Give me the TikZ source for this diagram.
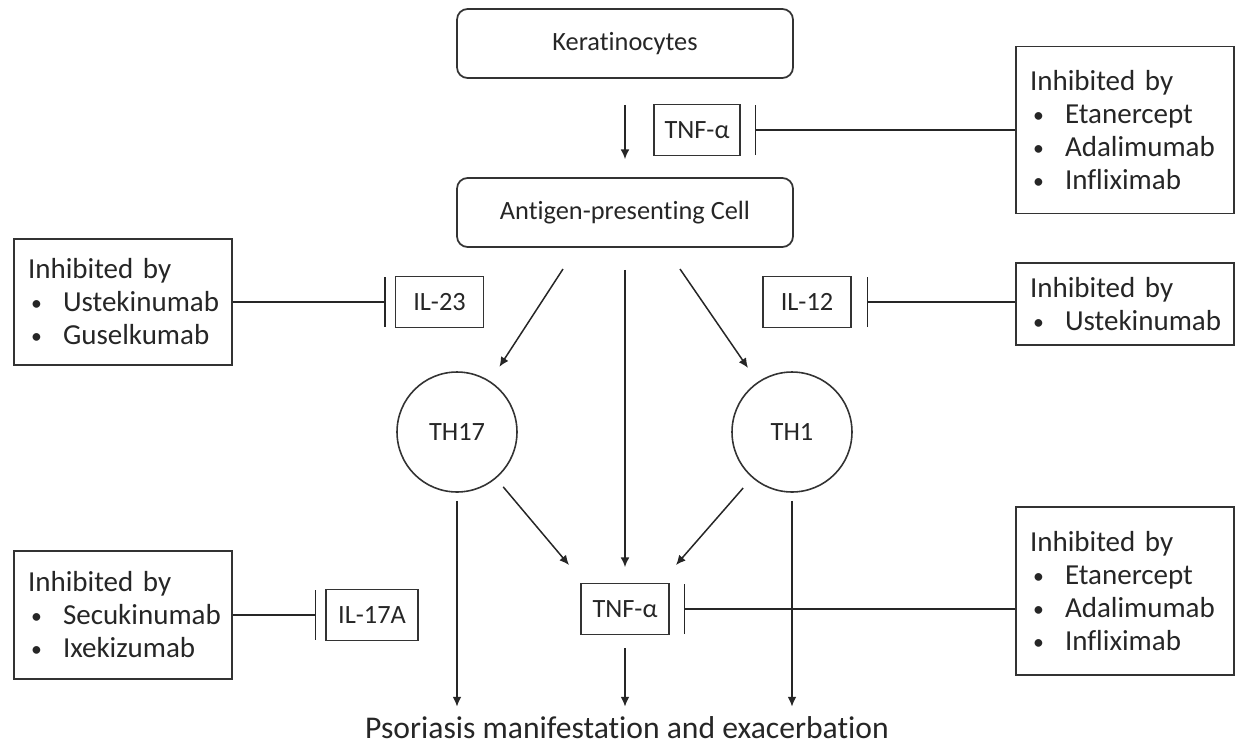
\documentclass[tikz,border=0pt]{standalone}
\usepackage{fontspec}
\setmainfont{Carlito}[Ligatures=NoCommon]
\usetikzlibrary{arrows.meta,positioning,calc}
\newcommand{\drug}[1]{\\\hspace*{0.06cm}\makebox[0.64cm][l]{\raisebox{0.08ex}{\scalebox{0.75}{\textbullet}}}#1}

\begin{document}
\begin{tikzpicture}[
    x=0.02cm, y=-0.02cm,
    cell/.style={rectangle, rounded corners=6pt, draw=black!80, line width=1pt, text=black!85,
                 minimum width=6.72cm, minimum height=1.38cm, font=\fontsize{15}{17}\selectfont},
    cyto/.style={rectangle, draw=black!80, line width=1pt, text=black!85,
                 minimum width=1.76cm, minimum height=1.02cm, font=\fontsize{15}{17}\selectfont},
    tcell/.style={circle, draw=black!80, line width=0.9pt, text=black!85, inner sep=0pt,
                  minimum size=2.4cm, font=\fontsize{15}{17}\selectfont},
    inhbox/.style={rectangle, draw=black!80, line width=1pt, text=black!85, inner sep=0.28cm,
                   text width=3.8cm, align=left, font=\fontsize{16.5}{18.8}\selectfont},
    flow/.style={-{Latex[length=5.5pt,width=5pt]}, line width=0.85pt, draw=black!85},
    block/.style={-{Bar[width=1cm]}, line width=0.85pt, draw=black!85}
]
\useasboundingbox (0,0) rectangle (1235,748);
\node[cell] (kera) at (625,43.5) {Keratinocytes};
\node[cell] (apc) at (625,212.5) {Antigen-presenting Cell};
\node[cyto, minimum width=1.72cm] (tnfa) at (697,130) {TNF-α};
\node[inhbox, minimum height=3.34cm] (inhA) at (1125,130) {Inhibited by\drug{Etanercept}\drug{Adalimumab}\drug{Infliximab}};
\node[cyto] (il23) at (439.5,302) {IL-23};
\node[inhbox, minimum height=2.52cm] (inhB) at (123,302) {Inhibited by\drug{Ustekinumab}\drug{Guselkumab}};
\node[cyto] (il12) at (807,302) {IL-12};
\node[inhbox, minimum height=1.6cm] (inhC) at (1125,304) {Inhibited by\drug{Ustekinumab}};
\node[tcell] (th17) at (457,432) {TH17};
\node[tcell] (th1) at (792,432) {TH1};
\node[cyto] (tnfb) at (625,609) {TNF-α};
\node[inhbox, minimum height=3.36cm] (inhE) at (1125,591) {Inhibited by\drug{Etanercept}\drug{Adalimumab}\drug{Infliximab}};
\node[cyto, minimum width=1.84cm] (il17) at (372,615) {IL-17A};
\node[inhbox, minimum height=2.56cm] (inhD) at (123,615) {Inhibited by\drug{Secukinumab}\drug{Ixekizumab}};
\node[inner sep=0pt, text=black!85, font=\fontsize{18}{20}\selectfont] (psor) at (627,728) {Psoriasis manifestation and exacerbation};
\coordinate (apcL) at (563,269); \coordinate (apcR) at (680,269);
\coordinate (tnfbL) at (569,565); \coordinate (tnfbR) at (676,565);
\draw[flow, shorten <=0.52cm, shorten >=0.36cm] (kera) -- (apc);
\draw[block, shorten >=0.28cm] (tnfa -| inhA.west) -- (tnfa);
\draw[block, shorten >=0.18cm] (inhB) -- (il23);
\draw[block, shorten >=0.3cm] (il12 -| inhC.west) -- (il12);
\draw[flow, shorten >=0.34cm] (apcL) -- (th17);
\draw[flow, shorten >=0.34cm] (apcR) -- (th1);
\draw[flow, shorten <=0.44cm, shorten >=0.31cm] (apc) -- (tnfb);
\draw[flow, shorten <=0.22cm] (th17) -- (tnfbL);
\draw[flow, shorten <=0.27cm] (th1) -- (tnfbR);
\draw[flow, shorten <=0.16cm, shorten >=0.2cm] (th17) -- (th17 |- psor.north);
\draw[flow, shorten <=0.16cm, shorten >=0.2cm] (th1) -- (th1 |- psor.north);
\draw[flow, shorten <=0.26cm, shorten >=0.2cm] (tnfb) -- (tnfb |- psor.north);
\draw[block, shorten >=0.28cm] (tnfb -| inhE.west) -- (tnfb);
\draw[block, shorten >=0.18cm] (inhD) -- (il17);
\end{tikzpicture}
\end{document}
